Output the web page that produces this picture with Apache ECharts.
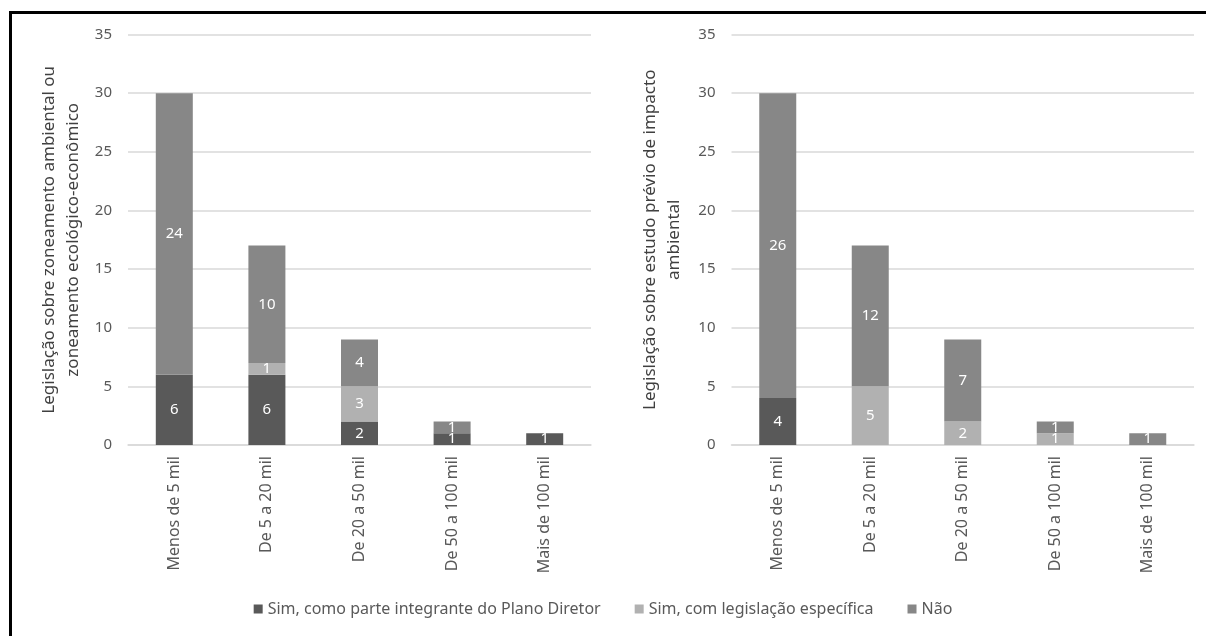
<!DOCTYPE html>
<html>
<head>
<meta charset="utf-8">
<script src="https://cdn.jsdelivr.net/npm/echarts@6/dist/echarts.min.js"></script>
<style>
  html, body { margin: 0; padding: 0; background: #fff; }
  #main { width: 1206px; height: 636px; }
</style>
</head>
<body>
<div id="main"></div>
<script>
// categorias (faixas de população)
const categorias = ['Menos de 5 mil', 'De 5 a 20 mil', 'De 20 a 50 mil', 'De 50 a 100 mil', 'Mais de 100 mil'];
const nomesSeries = ['Sim, como parte integrante do Plano Diretor', 'Sim, com legislação específica', 'Não'];

// gráfico da esquerda: zoneamento
const zonPlano = [6, 6, 2, 1, 1];
const zonEspecifica = [0, 1, 3, 0, 0];
const zonNao = [24, 10, 4, 1, 0];

// gráfico da direita: estudo prévio de impacto
const eiaPlano = [4, 0, 0, 0, 0];
const eiaEspecifica = [0, 5, 2, 1, 0];
const eiaNao = [26, 12, 7, 1, 1];

const yTicks = [0, 5, 10, 15, 20, 25, 30, 35];

const cores = ['#595959', '#b1b1b1', '#878787'];
const fonte = '"Noto Sans", "DejaVu Sans", sans-serif';
const cinza = '#595959';

const myChart = echarts.init(document.getElementById('main'), null, { renderer: 'canvas' });

function eixoX(gridIndex) {
    return {
        type: 'category',
        gridIndex: gridIndex,
        data: categorias,
        axisTick: { show: false },
        axisLine: { lineStyle: { color: '#d9d9d9', width: 1.5 } },
        axisLabel: { rotate: 90, margin: 11, color: cinza, fontSize: 16, fontFamily: fonte }
    };
}

function eixoY(gridIndex, nome, gap) {
    return {
        type: 'value',
        gridIndex: gridIndex,
        min: yTicks[0],
        max: yTicks[yTicks.length - 1],
        interval: 5,
        name: nome,
        nameLocation: 'middle',
        nameGap: gap,
        nameTextStyle: { color: '#404040', fontSize: 17, fontFamily: fonte, lineHeight: 24 },
        axisLine: { show: false },
        axisTick: { show: false },
        axisLabel: { margin: 16, color: cinza, fontSize: 15, fontFamily: fonte },
        splitLine: { lineStyle: { color: '#d9d9d9', width: 1.5 } }
    };
}

function serie(nome, dados, idx, eixo) {
    return {
        name: nome,
        type: 'bar',
        stack: 'g' + eixo,
        xAxisIndex: eixo,
        yAxisIndex: eixo,
        barWidth: 37,
        data: dados,
        itemStyle: { color: cores[idx] },
        label: {
            show: true,
            color: '#fff',
            fontSize: 15,
            fontFamily: fonte,
            formatter: p => (p.value ? p.value : '')
        }
    };
}

const option = {
    animation: false,
    backgroundColor: '#fff',
    grid: [
        { left: 128, right: 615, top: 34.5, bottom: 191 },
        { left: 731.5, right: 12, top: 34.5, bottom: 191 }
    ],
    legend: {
        data: nomesSeries,
        bottom: 14,
        left: 'center',
        itemWidth: 9,
        itemHeight: 9,
        itemGap: 34,
        icon: 'rect',
        textStyle: { color: cinza, fontSize: 16, fontFamily: fonte }
    },
    xAxis: [eixoX(0), eixoX(1)],
    yAxis: [
        eixoY(0, 'Legislação sobre zoneamento ambiental ou\nzoneamento ecológico-econômico', 43),
        eixoY(1, 'Legislação sobre estudo prévio de impacto\nambiental', 45)
    ],
    series: [
        serie(nomesSeries[0], zonPlano, 0, 0),
        serie(nomesSeries[1], zonEspecifica, 1, 0),
        serie(nomesSeries[2], zonNao, 2, 0),
        serie(nomesSeries[0], eiaPlano, 0, 1),
        serie(nomesSeries[1], eiaEspecifica, 1, 1),
        serie(nomesSeries[2], eiaNao, 2, 1)
    ],
    graphic: [
        {
            type: 'polyline',
            shape: { points: [[10.5, 636], [10.5, 12.5], [1206, 12.5]] },
            style: { stroke: '#000', lineWidth: 3, fill: null }
        }
    ]
};

myChart.setOption(option);
</script>
</body>
</html>
